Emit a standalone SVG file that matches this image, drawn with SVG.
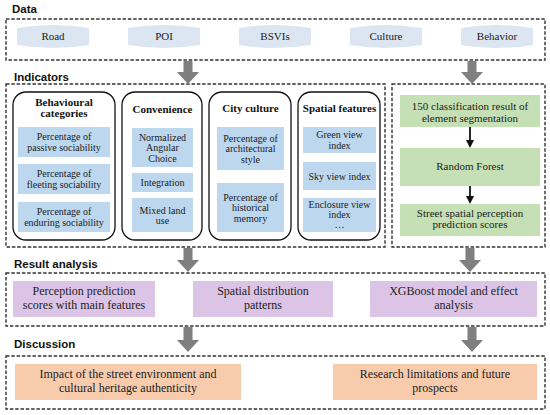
<svg xmlns="http://www.w3.org/2000/svg" width="550" height="415" viewBox="0 0 550 415">
<style>
.sec{fill:none;stroke:#333;stroke-width:1.4;stroke-dasharray:3.5 1.8}
.grp{fill:#fff;stroke:#111;stroke-width:1.3}
.blue{fill:#bdd7ee}
.green{fill:#c5e0b4}
.purple{fill:#dcc4e6}
.orange{fill:#f8cbad}
.cyl{fill:#dce6f2}
.head{font-family:"Liberation Sans",Arial,sans-serif;font-weight:bold;font-size:11.5px;fill:#111}
.gt{font-family:"Liberation Serif","Times New Roman",serif;font-weight:bold;font-size:11px;fill:#111;text-anchor:middle}
.t10{font-family:"Liberation Serif","Times New Roman",serif;font-size:10px;fill:#222;text-anchor:middle}
.t11{font-family:"Liberation Serif","Times New Roman",serif;font-size:11px;fill:#222;text-anchor:middle}
.t12{font-family:"Liberation Serif","Times New Roman",serif;font-size:12px;fill:#222;text-anchor:middle}
.big{fill:#7f7f7f}
.thin{stroke:#111;stroke-width:1.8;fill:none}
</style>
<defs>
<marker id="ah" markerWidth="8" markerHeight="8" refX="4" refY="7" orient="auto-start-reverse" markerUnits="userSpaceOnUse" viewBox="0 0 8 8">
<path d="M0,0 L8,0 L4,8 Z" fill="#111" transform="rotate(-90 4 4)"/>
</marker>
</defs>
<rect width="550" height="415" fill="#fff"/>

<!-- section titles -->
<text class="head" x="12" y="13">Data</text>
<text class="head" x="14" y="81">Indicators</text>
<text class="head" x="14" y="268">Result analysis</text>
<text class="head" x="14" y="348">Discussion</text>

<!-- section boxes -->
<rect id="data-box" class="sec" x="6" y="19" width="539" height="41"/>
<rect id="indicators-box" class="sec" x="6" y="84" width="379" height="163"/>
<rect id="model-box" class="sec" x="392" y="84" width="153" height="163"/>
<rect id="result-box" class="sec" x="6" y="273" width="539" height="53"/>
<rect id="discussion-box" class="sec" x="6" y="356" width="539" height="53"/>

<!-- data sources -->
<g id="road"><path class="cyl" d="M17,28 Q53,22 89,28 L89,45 Q53,51 17,45 Z"/><text class="t11" x="53" y="40">Road</text></g>
<g id="poi"><path class="cyl" d="M128,28 Q164,22 200,28 L200,45 Q164,51 128,45 Z"/><text class="t11" x="164" y="40">POI</text></g>
<g id="bsvis"><path class="cyl" d="M239,28 Q275,22 311,28 L311,45 Q275,51 239,45 Z"/><text class="t11" x="275" y="40">BSVIs</text></g>
<g id="culture"><path class="cyl" d="M350,28 Q386,22 422,28 L422,45 Q386,51 350,45 Z"/><text class="t11" x="386" y="40">Culture</text></g>
<g id="behavior"><path class="cyl" d="M461,28 Q497,22 533,28 L533,45 Q497,51 461,45 Z"/><text class="t11" x="497" y="40">Behavior</text></g>

<!-- indicator groups -->
<g id="behavioural-categories">
<rect class="grp" x="13" y="92" width="102" height="148" rx="13"/>
<text class="gt" x="64" y="106">Behavioural</text>
<text class="gt" x="64" y="117">categories</text>
<rect class="blue" x="18" y="127" width="92" height="30"/>
<text class="t10" x="64" y="140">Percentage of</text><text class="t10" x="64" y="151">passive sociability</text>
<rect class="blue" x="18" y="164" width="92" height="30"/>
<text class="t10" x="64" y="177">Percentage of</text><text class="t10" x="64" y="188">fleeting sociability</text>
<rect class="blue" x="18" y="202" width="92" height="30"/>
<text class="t10" x="64" y="215">Percentage of</text><text class="t10" x="64" y="226">enduring sociability</text>
</g>
<g id="convenience">
<rect class="grp" x="122" y="92" width="80" height="148" rx="13"/>
<text class="gt" x="162.5" y="113">Convenience</text>
<rect class="blue" x="132" y="128" width="61" height="39"/>
<text class="t10" x="162.5" y="140.5">Normalized</text><text class="t10" x="162.5" y="151">Angular</text><text class="t10" x="162.5" y="161.5">Choice</text>
<rect class="blue" x="132" y="173" width="61" height="19"/>
<text class="t10" x="162.5" y="186">Integration</text>
<rect class="blue" x="132" y="198" width="61" height="34"/>
<text class="t10" x="162.5" y="213.5">Mixed land</text><text class="t10" x="162.5" y="224">use</text>
</g>
<g id="city-culture">
<rect class="grp" x="209" y="92" width="82" height="148" rx="13"/>
<text class="gt" x="250.5" y="112">City culture</text>
<rect class="blue" x="217" y="127" width="67" height="43"/>
<text class="t10" x="250.5" y="141.5">Percentage of</text><text class="t10" x="250.5" y="152">architectural</text><text class="t10" x="250.5" y="162.5">style</text>
<rect class="blue" x="217" y="183" width="67" height="49"/>
<text class="t10" x="250.5" y="200.5">Percentage of</text><text class="t10" x="250.5" y="211">historical</text><text class="t10" x="250.5" y="221.5">memory</text>
</g>
<g id="spatial-features">
<rect class="grp" x="298" y="92" width="82" height="148" rx="13"/>
<text class="gt" x="339.5" y="112">Spatial features</text>
<rect class="blue" x="303" y="127" width="73" height="26"/>
<text class="t10" x="339.5" y="138">Green view</text><text class="t10" x="339.5" y="148.5">index</text>
<rect class="blue" x="303" y="162" width="73" height="28"/>
<text class="t10" x="339.5" y="179.5">Sky view index</text>
<rect class="blue" x="303" y="198" width="73" height="34"/>
<text class="t10" x="339.5" y="208">Enclosure view</text><text class="t10" x="339.5" y="218">index</text><text class="t10" x="339.5" y="228">…</text>
</g>

<!-- model pipeline -->
<g id="segmentation"><rect class="green" x="400" y="95" width="140" height="32"/>
<text class="t11" x="470" y="109.5">150 classification result of</text><text class="t11" x="470" y="121.5">element segmentation</text></g>
<g id="random-forest"><rect class="green" x="400" y="148" width="140" height="38"/>
<text class="t11" x="470" y="170">Random Forest</text></g>
<g id="perception-scores"><rect class="green" x="400" y="204" width="140" height="32"/>
<text class="t11" x="470" y="216.5">Street spatial perception</text><text class="t11" x="470" y="228">prediction scores</text></g>

<!-- result analysis -->
<g id="perception-features"><rect class="purple" x="13" y="281" width="142" height="36"/>
<text class="t12" x="84" y="295">Perception prediction</text><text class="t12" x="84" y="308.5">scores with main features</text></g>
<g id="spatial-distribution"><rect class="purple" x="193" y="281" width="140" height="36"/>
<text class="t12" x="263" y="295">Spatial distribution</text><text class="t12" x="263" y="308.5">patterns</text></g>
<g id="xgboost"><rect class="purple" x="370" y="281" width="167" height="36"/>
<text class="t12" x="453.5" y="295">XGBoost model and effect</text><text class="t12" x="453.5" y="308.5">analysis</text></g>

<!-- discussion -->
<g id="impact"><rect class="orange" x="15" y="364" width="226" height="36"/>
<text class="t12" x="128" y="378">Impact of the street environment and</text><text class="t12" x="128" y="391.5">cultural heritage authenticity</text></g>
<g id="limitations"><rect class="orange" x="333" y="364" width="204" height="36"/>
<text class="t12" x="435" y="378">Research limitations and future</text><text class="t12" x="435" y="391.5">prospects</text></g>

<!-- connectors -->
<g id="connectors">
<path class="big" d="M183.5,61 H192.5 V72 H199 L188,84 L177,72 H183.5 Z"/>
<path class="big" d="M467.5,61 H476.5 V72 H483 L472,84 L461,72 H467.5 Z"/>
<path class="big" d="M183.5,248 H192.5 V260 H199 L188,272 L177,260 H183.5 Z"/>
<path class="big" d="M465.5,248 H474.5 V260 H481 L470,272 L459,260 H465.5 Z"/>
<path class="big" d="M183.5,327 H192.5 V340 H199 L188,352 L177,340 H183.5 Z"/>
<path class="big" d="M467.5,327 H476.5 V340 H483 L472,352 L461,340 H467.5 Z"/>
<line class="thin" x1="470" y1="127" x2="470" y2="141"/>
<path d="M466,140 L474,140 L470,148 Z" fill="#111"/>
<line class="thin" x1="470" y1="186" x2="470" y2="197"/>
<path d="M466,196 L474,196 L470,204 Z" fill="#111"/>
</g>
</svg>
